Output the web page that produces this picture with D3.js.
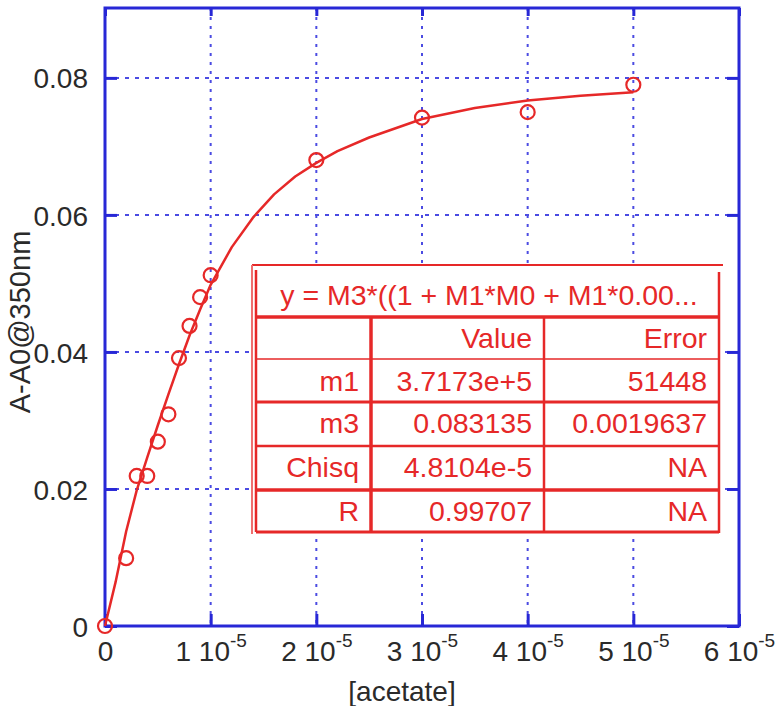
<!DOCTYPE html>
<html>
<head>
<meta charset="utf-8">
<script src="https://cdn.jsdelivr.net/npm/d3@7"></script>
<style>
  html, body { margin: 0; padding: 0; background: #fff; }
  svg { display: block; }
  text { font-family: "Liberation Sans", Arial, sans-serif; }
</style>
</head>
<body>
<svg id="chart" width="776" height="706"></svg>
<script>
// Measured absorbance change vs. acetate concentration (M)
const acetate = [0, 2e-6, 3e-6, 4e-6, 5e-6, 6e-6, 7e-6, 8e-6, 9e-6, 1e-5, 2e-5, 3e-5, 4e-5, 5e-5];
const deltaA  = [0, 0.0099, 0.0219, 0.0219, 0.0269, 0.0309, 0.0391, 0.0438, 0.0480, 0.0512, 0.0680, 0.0742, 0.0750, 0.0790];

// Fitted binding curve, sampled along the concentration range
const fitX = [0, 1e-6, 2e-6, 3e-6, 4e-6, 5e-6, 6e-6, 7e-6, 8e-6, 9e-6, 1e-5, 1.2e-5, 1.4e-5, 1.6e-5, 1.8e-5,
              2e-5, 2.2e-5, 2.5e-5, 3e-5, 3.5e-5, 4e-5, 4.5e-5, 5e-5];
const fitY = [0, 0.0064, 0.0138, 0.0198, 0.0246, 0.0293, 0.0338, 0.0382, 0.0424, 0.0462, 0.0498, 0.0553, 0.0596,
              0.0630, 0.0656, 0.0676, 0.0693, 0.0713, 0.0740, 0.0756, 0.0767, 0.0774, 0.0779];

// Axis ticks
const xTicks = [0, 1e-5, 2e-5, 3e-5, 4e-5, 5e-5, 6e-5];
const xTickMantissa = ["0", "1", "2", "3", "4", "5", "6"];
const xTickExponent = "-5";
const yTicks = [0, 0.02, 0.04, 0.06, 0.08];
const yTickLabels = ["0", "0.02", "0.04", "0.06", "0.08"];

// Curve-fit results box
const fitEquation = "y = M3*((1 + M1*M0 + M1*0.00...";
const fitHeader = ["", "Value", "Error"];
const fitParams = ["m1", "m3", "Chisq", "R"];
const fitValues = ["3.7173e+5", "0.083135", "4.8104e-5", "0.99707"];
const fitErrors = ["51448", "0.0019637", "NA", "NA"];

const xTitle = "[acetate]";
const yTitle = "A-A0@350nm";

const BLUE = "#2727d6";
const GRID = "#4b4be2";
const RED = "#e62828";
const INK = "#2a2a2a";

const svg = d3.select("#chart");
const L = 105, R = 739, T = 8, B = 626;

const x = d3.scaleLinear().domain([0, 6e-5]).range([L, R]);
const y = d3.scaleLinear().domain([0, 0.0902]).range([B, T]);

// Grid lines
const grid = svg.append("g");
grid.selectAll("line.gx").data(xTicks.slice(1, -1)).join("line")
  .attr("x1", d => x(d)).attr("x2", d => x(d)).attr("y1", T).attr("y2", B)
  .attr("stroke", GRID).attr("stroke-width", 2).attr("stroke-dasharray", "3,6");
grid.selectAll("line.gy").data(yTicks.slice(1)).join("line")
  .attr("x1", L).attr("x2", R).attr("y1", d => y(d)).attr("y2", d => y(d))
  .attr("stroke", GRID).attr("stroke-width", 2).attr("stroke-dasharray", "4,6");

// Axes (inward ticks)
const xAxis = svg.append("g").attr("transform", `translate(0,${B})`)
  .call(d3.axisBottom(x).tickValues(xTicks).tickSize(-12).tickSizeOuter(0).tickFormat(""));
const yAxis = svg.append("g").attr("transform", `translate(${L},0)`)
  .call(d3.axisLeft(y).tickValues(yTicks).tickSize(-12).tickSizeOuter(0).tickFormat(""));
svg.append("g").attr("transform", `translate(0,${T})`)
  .call(d3.axisTop(x).tickValues(xTicks).tickSize(-8).tickSizeOuter(0).tickFormat(""));
svg.append("g").attr("transform", `translate(${R},0)`)
  .call(d3.axisRight(y).tickValues(yTicks).tickSize(-12).tickSizeOuter(0).tickFormat(""));
svg.selectAll(".domain").remove();
svg.selectAll(".tick line").attr("stroke", BLUE).attr("stroke-width", 3);

// Plot frame
svg.append("rect").attr("x", L).attr("y", T).attr("width", R - L).attr("height", B - T)
  .attr("fill", "none").attr("stroke", BLUE).attr("stroke-width", 3);

// X tick labels: "n 10^-5"
xAxis.selectAll(".tick").each(function (d, i) {
  const t = d3.select(this).append("text")
    .attr("y", 35).attr("text-anchor", "middle")
    .attr("fill", INK).attr("font-size", 28);
  if (d === 0) {
    t.text(xTickMantissa[i]);
  } else {
    t.append("tspan").text(xTickMantissa[i] + " 10");
    t.append("tspan").attr("font-size", 19).attr("dy", -14).text(xTickExponent);
  }
});

// Y tick labels
yAxis.selectAll(".tick").each(function (d, i) {
  d3.select(this).append("text")
    .attr("x", -17).attr("dy", "0.36em").attr("text-anchor", "end")
    .attr("fill", INK).attr("font-size", 28).text(yTickLabels[i]);
});

// Axis titles
svg.append("text").attr("x", 402).attr("y", 701).attr("text-anchor", "middle")
  .attr("fill", INK).attr("font-size", 28).text(xTitle);
svg.append("text").attr("transform", "translate(30,322) rotate(-90)").attr("text-anchor", "middle")
  .attr("fill", INK).attr("font-size", 29).text(yTitle);

// Fitted curve
const line = d3.line().x(d => x(d[0])).y(d => y(d[1]));
svg.append("path").datum(fitX.map((v, i) => [v, fitY[i]]))
  .attr("d", line).attr("fill", "none").attr("stroke", RED).attr("stroke-width", 2.5)
  .attr("stroke-linejoin", "round");

// Data points
svg.append("g").selectAll("circle").data(acetate.map((v, i) => [v, deltaA[i]])).join("circle")
  .attr("cx", d => x(d[0])).attr("cy", d => y(d[1])).attr("r", 7)
  .attr("fill", "none").attr("stroke", RED).attr("stroke-width", 2.2);

// Fit results table
const tb = svg.append("g");
const tL = 253, tR = 719, tT = 265;
const rowLines = [317, 359, 402, 446, 490, 532];
const rowWidths = [3.5, 1.5, 3, 2.5, 3.5, 3];
const colLines = [371, 544];
const colWidths = [3.5, 2.5];

tb.append("rect").attr("x", tL).attr("y", tT).attr("width", tR - tL).attr("height", 532 - tT)
  .attr("fill", "#fff");
tb.append("line").attr("x1", tL - 1).attr("x2", tR + 4).attr("y1", tT).attr("y2", tT)
  .attr("stroke", RED).attr("stroke-width", 2);
tb.append("line").attr("x1", 252).attr("x2", 252).attr("y1", tT).attr("y2", 534)
  .attr("stroke", "#ef6f6f").attr("stroke-width", 2);
tb.append("line").attr("x1", 256).attr("x2", 256).attr("y1", tT + 5).attr("y2", 532)
  .attr("stroke", RED).attr("stroke-width", 2.5);
tb.append("line").attr("x1", tR).attr("x2", tR).attr("y1", tT + 7).attr("y2", 533)
  .attr("stroke", RED).attr("stroke-width", 2.5);
tb.selectAll("line.row").data(rowLines).join("line")
  .attr("x1", 256).attr("x2", tR).attr("y1", d => d).attr("y2", d => d)
  .attr("stroke", RED).attr("stroke-width", (d, i) => rowWidths[i]);
tb.selectAll("line.col").data(colLines).join("line")
  .attr("x1", d => d).attr("x2", d => d).attr("y1", rowLines[0]).attr("y2", 533)
  .attr("stroke", RED).attr("stroke-width", (d, i) => colWidths[i]);

tb.append("text").attr("x", 489).attr("y", 305).attr("text-anchor", "middle")
  .attr("fill", RED).attr("font-size", 28.5).text(fitEquation);

const colRight = [359, 532, 707];
const bodyRows = [fitHeader].concat(fitParams.map((p, i) => [p, fitValues[i], fitErrors[i]]));
const baselines = [348, 391, 433, 477, 521];
bodyRows.forEach((row, r) => {
  row.forEach((cell, c) => {
    tb.append("text").attr("x", colRight[c]).attr("y", baselines[r]).attr("text-anchor", "end")
      .attr("fill", RED).attr("font-size", 28.5).text(cell);
  });
});
</script>
</body>
</html>
